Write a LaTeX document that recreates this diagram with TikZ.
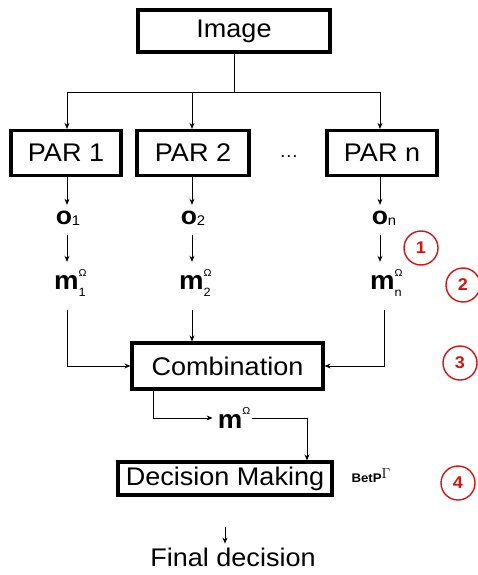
\documentclass[tikz,border=0pt]{standalone}
\usepackage{fontspec}
\setmainfont{Liberation Sans}[FakeStretch=1.06]
\usetikzlibrary{arrows.meta}
\definecolor{circred}{RGB}{210,20,20}
\newcommand{\bigtxt}{\fontsize{25.5}{28}\selectfont}
\newcommand{\mvar}[1]{\fontsize{26}{28}\selectfont\textbf{m}\makebox[0pt][l]{\raisebox{13.5pt}{\fontsize{10}{10}\selectfont Ω}}\raisebox{-7pt}{\fontsize{12}{12}\selectfont #1}}
\newcommand{\ovar}[1]{\fontsize{25}{26}\selectfont\textbf{o}\raisebox{-1pt}{\fontsize{14}{14}\selectfont #1}}
\begin{document}
\begin{tikzpicture}[x=1pt,y=-1pt,
  box/.style={draw,line width=3.2pt,inner sep=0pt,font=\bigtxt},
  lbl/.style={inner sep=0pt},
  conn/.style={line width=0.8pt},
  arr/.style={conn,-{Stealth[length=6pt,width=5pt]}},
  badge/.style={draw=circred,circle,line width=1.4pt,minimum size=34pt,inner sep=0pt,text=circred,font=\fontsize{17}{17}\selectfont\bfseries}]
\useasboundingbox (0,0) rectangle (478,575);
% boxes
\node[box,minimum width=192pt,minimum height=42pt] (img) at (234,31) {Image};
\node[box,minimum width=110pt,minimum height=45pt] (par1) at (66,153) {PAR 1};
\node[box,minimum width=112pt,minimum height=45pt] (par2) at (193,153) {PAR 2};
\node[box,minimum width=110pt,minimum height=45pt] (parn) at (382,153) {PAR n};
\node[lbl,font=\fontsize{18}{18}\selectfont] (dots) at (289,157) {…};
\node[box,minimum width=191pt,minimum height=46pt] (comb) at (227.5,366) {Combination};
\node[box,minimum width=214pt,minimum height=33pt] (dec) at (225,478.5) {Decision Making};
% labels
\node[lbl,minimum height=26pt] (o1) at (68,218) {\ovar{1}};
\node[lbl,minimum height=26pt] (o2) at (193,218) {\ovar{2}};
\node[lbl,minimum height=26pt] (on) at (384,218) {\ovar{n}};
\node[lbl,minimum height=42pt] (m1) at (70,283) {\mvar{1}};
\node[lbl,minimum height=42pt] (m2) at (195,283) {\mvar{2}};
\node[lbl,minimum height=42pt] (mn) at (386,283) {\mvar{n}};
\node[lbl,minimum height=30pt] (mo) at (234,418) {\fontsize{26}{28}\selectfont\textbf{m}\raisebox{13.5pt}{\fontsize{10}{10}\selectfont Ω}};
\node[lbl] (betp) at (371,476) {\fontsize{12.5}{12}\selectfont\textbf{BetP}\raisebox{4pt}{\fontsize{14}{14}\selectfont$\Gamma$}};
\node[lbl,font=\bigtxt] (final) at (233,557) {Final decision};
% badges
\node[badge] (b1) at (421,248) {1};
\node[badge] (b2) at (463,285) {2};
\node[badge] (b3) at (460,363) {3};
\node[badge] (b4) at (458,483) {4};
% connectors
\coordinate (jc) at (234,92);
\coordinate (j1) at (67,92);
\coordinate (j2) at (192,92);
\coordinate (jn) at (380,92);
\draw[conn] (img.south) -- (jc);
\draw[conn] (j1) -- (jn);
\draw[arr] (j1) -- (j1 |- par1.north);
\draw[arr] (j2) -- (j2 |- par2.north);
\draw[arr] (jn) -- (jn |- parn.north);
\draw[arr] (j1 |- par1.south) -- (j1 |- o1.north);
\draw[arr] (j2 |- par2.south) -- (j2 |- o2.north);
\draw[arr] (jn |- parn.south) -- (jn |- on.north);
\draw[arr,shorten <=4pt] (j1 |- o1.south) -- (j1 |- m1.north);
\draw[arr,shorten <=4pt] (j2 |- o2.south) -- (j2 |- m2.north);
\draw[arr,shorten <=4pt] (jn |- on.south) -- (jn |- mn.north);
\draw[arr,shorten <=6pt] (j1 |- m1.south) |- (comb.west);
\draw[arr,shorten <=6pt] (j2 |- m2.south) -- (j2 |- comb.north);
\draw[arr,shorten <=6pt] ([xshift=4pt]jn |- mn.south) |- (comb.east);
\coordinate (cs) at ([xshift=-74.5pt]comb.south);
\coordinate (dn) at ([xshift=82pt]dec.north);
\draw[arr,shorten >=5pt] (cs) |- (mo.west);
\draw[arr,shorten <=2pt] (mo.east) -| (dn);
\draw[arr] ([yshift=-30pt]dec.south) -- ([yshift=-47pt]dec.south);
\end{tikzpicture}
\end{document}
